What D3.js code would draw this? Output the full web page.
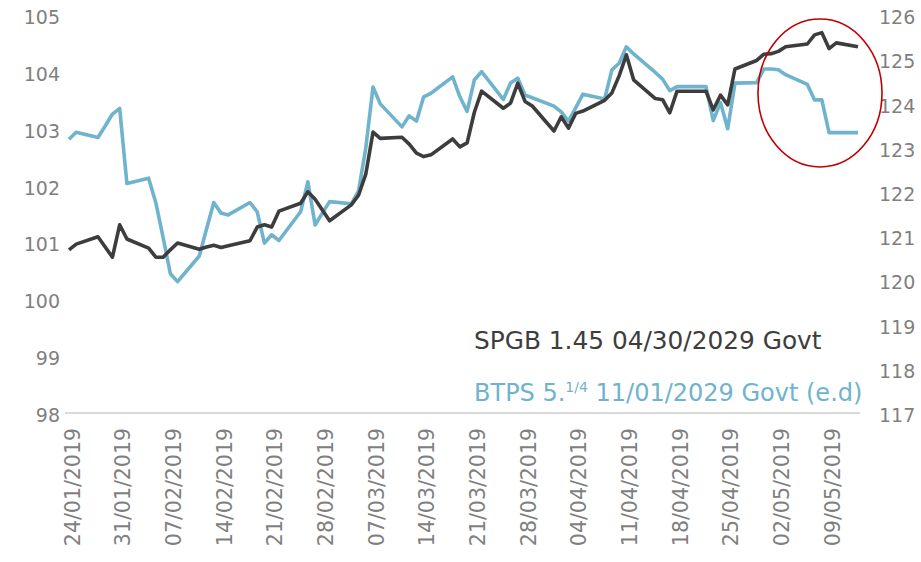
<!DOCTYPE html>
<html>
<head>
<meta charset="utf-8">
<script src="https://cdn.jsdelivr.net/npm/d3@7"></script>
<style>
  body { margin: 0; background: #fff; }
  svg { display: block; font-family: "DejaVu Sans", sans-serif; }
  .axis text { fill: #7f7f7f; font-size: 19px; font-family: "DejaVu Sans", sans-serif; }
  .x-axis text { font-size: 20.5px; }
  .axis path, .axis line { display: none; }
</style>
</head>
<body>
<div id="chart"></div>
<script>
const width = 921,
  height = 562,
  margin = { top: 15, bottom: 149, left: 69, right: 63 };

// business days 24/01/2019 -> 13/05/2019 (holidays carried flat in source data)
const startDate = new Date(2019, 0, 24),
  endDate = new Date(2019, 4, 13);

const spgb = [
  100.87, 100.97, 101.10, 100.92, 100.74, 101.31,
  101.06, 100.90, 100.74, 100.74, 100.87, 100.99, 100.88, 100.92, 100.95, 100.91,
  100.94, 101.03, 101.27, 101.31, 101.27, 101.55, 101.69, 101.89, 101.76, 101.57,
  101.38, 101.66, 101.83, 102.20, 102.94, 102.83, 102.85, 102.73, 102.57, 102.51,
  102.54, 102.82, 102.68, 102.75, 103.29, 103.66, 103.36, 103.45, 103.80, 103.48, 103.40,
  102.96, 103.21, 103.01, 103.27, 103.31, 103.50, 103.63, 103.93, 104.30, 103.86,
  103.53, 103.51, 103.28, 103.66, 103.66, 103.66, 103.33, 103.59, 103.42, 104.05,
  104.20, 104.31,
  104.32, 104.36, 104.44, 104.49, 104.65, 104.69, 104.41, 104.51, 104.44
];

const btps = [
  123.19, 123.35, 123.23, 123.49, 123.76, 123.89,
  122.19, 122.31, 121.75, 120.97, 120.15, 119.97, 120.55, 121.16, 121.76, 121.52,
  121.48, 121.76, 121.55, 120.84, 121.03, 120.90, 121.55, 122.23, 121.25, 121.52,
  121.78, 121.73, 122.02, 122.99, 124.37, 123.99, 123.47, 123.72, 123.60, 124.15,
  124.23, 124.60, 124.15, 123.82, 124.53, 124.72, 124.09, 124.46, 124.57, 124.19, 124.13,
  123.94, 123.81, 123.60, 123.90, 124.21, 124.10, 124.76, 124.91, 125.28, 125.12,
  124.70, 124.55, 124.29, 124.38, 124.38, 124.38, 123.61, 124.02, 123.43, 124.46,
  124.47, 124.78,
  124.78, 124.76, 124.65, 124.43, 124.08, 124.08, 123.34, 123.34, 123.34
];

const leftTicks = [98, 99, 100, 101, 102, 103, 104, 105];
const rightTicks = [117, 118, 119, 120, 121, 122, 123, 124, 125, 126];

const dates = d3.timeDay
  .range(startDate, d3.timeDay.offset(endDate, 1))
  .filter(d => d.getDay() !== 0 && d.getDay() !== 6);

const data = dates.map((d, i) => ({ date: d, spgb: spgb[i], btps: btps[i] }));

const weekTicks = d3.timeDay.range(startDate, endDate, 7);

const xScale = d3
  .scaleTime()
  .domain([startDate, endDate])
  .range([margin.left, width - margin.right]);

const yLeft = d3
  .scaleLinear()
  .domain([98, 105])
  .range([height - margin.bottom, margin.top]);

const yRight = d3
  .scaleLinear()
  .domain([117, 126])
  .range([height - margin.bottom, margin.top]);

const svg = d3
  .select("#chart")
  .append("svg")
  .attr("width", width)
  .attr("height", height);

svg.append("rect").attr("width", width).attr("height", height).attr("fill", "#fff");

// baseline
svg
  .append("line")
  .attr("x1", 65)
  .attr("x2", 860)
  .attr("y1", yLeft(98))
  .attr("y2", yLeft(98))
  .attr("stroke", "#d9d9d9")
  .attr("stroke-width", 2);

// left axis
svg
  .append("g")
  .attr("class", "axis y-left")
  .attr("transform", "translate(60,0)")
  .call(d3.axisLeft(yLeft).tickValues(leftTicks).tickFormat(d3.format("d")).tickSize(0).tickPadding(0))
  .selectAll("text")
  .attr("dy", "0.45em");

// right axis
svg
  .append("g")
  .attr("class", "axis y-right")
  .attr("transform", "translate(879,0)")
  .call(d3.axisRight(yRight).tickValues(rightTicks).tickFormat(d3.format("d")).tickSize(0).tickPadding(0))
  .selectAll("text")
  .attr("dy", "0.45em");

// x axis, rotated date labels
const xAxis = svg
  .append("g")
  .attr("class", "axis x-axis")
  .attr("transform", `translate(0,${yLeft(98)})`)
  .call(
    d3.axisBottom(xScale)
      .tickValues(weekTicks)
      .tickFormat(d3.timeFormat("%d/%m/%Y"))
      .tickSize(0)
  );

xAxis
  .selectAll("text")
  .attr("text-anchor", "end")
  .attr("transform", "translate(3,15) rotate(-90)")
  .attr("x", 0)
  .attr("y", 0)
  .attr("dy", "0.35em");

// lines
const lineLeft = d3.line().x(d => xScale(d.date)).y(d => yLeft(d.spgb));
const lineRight = d3.line().x(d => xScale(d.date)).y(d => yRight(d.btps));

svg
  .append("path")
  .datum(data)
  .attr("fill", "none")
  .attr("stroke", "#6fb3cc")
  .attr("stroke-width", 3.6)
  .attr("stroke-linejoin", "round")
  .attr("d", lineRight);

svg
  .append("path")
  .datum(data)
  .attr("fill", "none")
  .attr("stroke", "#3d3d3d")
  .attr("stroke-width", 3.6)
  .attr("stroke-linejoin", "round")
  .attr("d", lineLeft);

// annotation ellipse
svg
  .append("ellipse")
  .attr("cx", 820)
  .attr("cy", 93)
  .attr("rx", 62)
  .attr("ry", 74)
  .attr("fill", "none")
  .attr("stroke", "#c00000")
  .attr("stroke-width", 1.6);

// legend text
svg
  .append("text")
  .attr("x", 474)
  .attr("y", 349)
  .attr("font-size", 24.8)
  .attr("fill", "#3d3d3d")
  .text("SPGB 1.45 04/30/2029 Govt");

const btpsLabel = svg
  .append("text")
  .attr("x", 474)
  .attr("y", 401)
  .attr("font-size", 24)
  .attr("fill", "#6fb3cc");

btpsLabel.append("tspan").text("BTPS 5.");
btpsLabel.append("tspan").attr("font-size", 14).attr("dy", -9).text("1/4");
btpsLabel.append("tspan").attr("dy", 9).text(" 11/01/2029 Govt (e.d)");
</script>
</body>
</html>
